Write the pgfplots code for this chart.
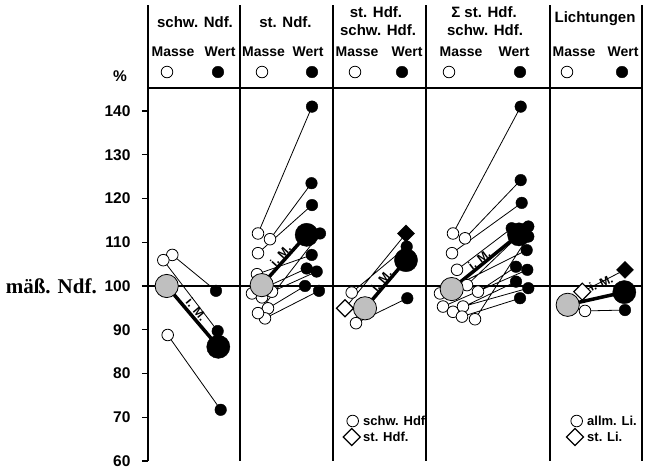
\documentclass[border=0pt]{standalone}
\usepackage{fontspec}
\setmainfont{Liberation Sans}
\newfontfamily\serifb{Liberation Serif}
\usepackage{pgfplots}
\pgfplotsset{compat=1.18}
\newcommand\hf{\fontsize{15}{17}\selectfont\bfseries}
\newcommand\mf{\fontsize{14}{15}\selectfont\bfseries}
\newcommand\tf{\fontsize{15.5}{16}\selectfont\bfseries}
\newcommand\lf{\fontsize{13}{14}\selectfont\bfseries}
\newcommand\imf{\fontsize{12}{12}\selectfont\bfseries}
\newcommand\bigserif{\serifb\bfseries\fontsize{21}{23}\selectfont}
\definecolor{midgray}{gray}{0.75}
\begin{document}
\begin{tikzpicture}
\begin{axis}[
 scale only axis, width=494pt, height=456pt,
 xmin=148, xmax=642, ymin=60, ymax=164.2286,
 clip=false,
 axis x line=none, axis y line=left,
 axis line style={-, line width=1.6pt},
 ytick={60,70,...,140},
 tick align=outside, major tick length=6pt,
 every tick/.style={line width=1.2pt, black},
 yticklabel style={font=\tf, xshift=-8pt, /pgf/number format/assume math mode=true},
 unbounded coords=jump,
]
% frame lines
\addplot[line width=1.6pt, black] coordinates {(240,60)(240,164.2286) (nan,nan) (333,60)(333,164.2286) (nan,nan) (426,60)(426,164.2286) (nan,nan) (550,60)(550,164.2286) (nan,nan) (642,60)(642,164.2286)};
\addplot[line width=1.6pt, black] coordinates {(148,100)(642,100) (nan,nan) (148,145.26)(642,145.26)};
% thin connecting lines
\addplot[line width=0.8pt, black] coordinates {
 (172.3,107.1)(216,98.9) (nan,nan) (163.3,105.9)(217.7,89.7) (nan,nan) (167.7,88.8)(220.7,71.7) (nan,nan)
 (258,112.0)(312,141.0) (nan,nan) (270,110.7)(311.5,123.5) (nan,nan) (258,107.5)(312,118.5) (nan,nan)
 (257,102.7)(311.7,107.1) (nan,nan) (252,98.3)(306.7,104.0) (nan,nan) (272,98.7)(316.7,103.3) (nan,nan)
 (268,94.9)(305,100.0) (nan,nan) (265,92.6)(319,98.9) (nan,nan) (258,93.8)(320,112.0) (nan,nan)
 (351.7,98.5)(406.7,109.0) (nan,nan) (345,94.9)(406,112.0) (nan,nan) (356,91.5)(407.3,97.2) (nan,nan)
 (453,112.0)(520.7,141.0) (nan,nan) (465,110.9)(520.7,124.2) (nan,nan) (452,107.5)(521.7,119.0) (nan,nan)
 (457,103.7)(511.7,113.2) (nan,nan) (467,100.2)(528.3,113.6) (nan,nan) (440,98.3)(526.7,108.2) (nan,nan)
 (478,98.7)(516,104.4) (nan,nan) (443,95.3)(527.3,103.7) (nan,nan) (453,94.1)(516,101.0) (nan,nan)
 (463,95.3)(528.3,99.5) (nan,nan) (462,93.0)(520,97.2) (nan,nan) (475,92.4)(528.3,111.3) (nan,nan)
 (585,94.3)(625,94.5) (nan,nan) (582.3,98.7)(625,103.7)};
% open circles
\addplot[only marks, mark=*, mark size=5.8pt, mark options={fill=white, draw=black, line width=0.8pt}] coordinates {
 (172.3,107.1)(163.3,105.9)(167.7,88.8)
 (258,112.0)(270,110.7)(258,107.5)(257,102.7)(252,98.3)(272,98.7)(262,97.4)(268,94.9)(265,92.6)(258,93.8)
 (351.7,98.5)(356,91.5)
 (453,112.0)(465,110.9)(452,107.5)(457,103.7)(467,100.2)(440,98.3)(478,98.7)(443,95.3)(453,94.1)(463,95.3)(462,93.0)(475,92.4)
 (585,94.3)
 (167,148.91)(262,148.91)(355,148.91)(449,148.91)(567,148.91)
 (352.7,69.14)(576.7,69.14)};
% filled circles
\addplot[only marks, mark=*, mark size=5.8pt, mark options={fill=black, draw=black}] coordinates {
 (216,98.9)(217.7,89.7)(220.7,71.7)
 (312,141.0)(311.5,123.5)(312,118.5)(311.7,107.1)(306.7,104.0)(316.7,103.3)(305,100.0)(319,98.9)(320,112.0)
 (406.7,109.0)(407.3,97.2)
 (520.7,141.0)(520.7,124.2)(521.7,119.0)(511.7,113.2)(528.3,113.6)(526.7,108.2)(516,104.4)(527.3,103.7)(516,101.0)(528.3,99.5)(520,97.2)(528.3,111.3)
 (625,94.5)
 (218,148.91)(312,148.91)(402,148.91)(520,148.91)(622,148.91)};
% mean lines
\addplot[line width=3.5pt, black] coordinates {
 (166.7,100)(218.3,86.1) (nan,nan) (261.7,100.2)(306.7,111.7) (nan,nan) (365,94.9)(406,105.9) (nan,nan)
 (451.7,99.3)(519,111.8) (nan,nan) (567.7,95.7)(624.3,98.6)};
\addplot[only marks, mark=*, mark size=11.6pt, mark options={fill=midgray, draw=black, line width=0.8pt}] coordinates {
 (166.7,100)(261.7,100.2)(365,94.9)(451.7,99.3)(567.7,95.7)};
\addplot[only marks, mark=*, mark size=11.6pt, mark options={fill=black, draw=black}] coordinates {
 (218.3,86.1)(306.7,111.7)(406,105.9)(519,111.8)(624.3,98.6)};
% diamonds
\addplot[only marks, mark=square*, mark size=6pt, mark options={rotate=45, fill=white, draw=black, line width=1.2pt}] coordinates {
 (345,94.9)(582.3,98.7)(351.7,65.49)(575,65.49)};
\addplot[only marks, mark=square*, mark size=6pt, mark options={rotate=45, fill=black, draw=black}] coordinates {
 (406,112.0)(625,103.7)};
% i. M. labels
\node[font=\imf, rotate=-50, anchor=south, inner sep=2.5pt] at (axis cs:191,93.6) {i. M.};
\node[font=\imf, rotate=48, anchor=south, inner sep=1.5pt] at (axis cs:285,106.06) {i. M.};
\node[font=\imf, rotate=50, anchor=south, inner sep=1.5pt] at (axis cs:386,100.3) {i. M.};
\node[font=\imf, rotate=38, anchor=south, inner sep=1.5pt] at (axis cs:483,104.9) {i. M.};
\node[font=\imf, rotate=24] at (axis cs:601,100.69) {i. M.};
% headers
\node[font=\hf] at (axis cs:195,160.34) {schw. Ndf.};
\node[font=\hf] at (axis cs:285.5,160.34) {st. Ndf.};
\node[font=\hf, inner sep=0pt] at (axis cs:376,162.63) {st. Hdf.};
\node[font=\hf, inner sep=0pt] at (axis cs:378,158.51) {schw. Hdf.};
\node[font=\hf, inner sep=0pt] at (axis cs:484,162.63) {Σ st. Hdf.};
\node[font=\hf, inner sep=0pt] at (axis cs:485,158.51) {schw. Hdf.};
\node[font=\hf] at (axis cs:595,161.03) {Lichtungen};
\node[font=\mf] at (axis cs:173,153.49) {Masse};
\node[font=\mf] at (axis cs:220,153.49) {Wert};
\node[font=\mf] at (axis cs:263.5,153.49) {Masse};
\node[font=\mf] at (axis cs:308,153.49) {Wert};
\node[font=\mf] at (axis cs:357,153.49) {Masse};
\node[font=\mf] at (axis cs:407,153.49) {Wert};
\node[font=\mf] at (axis cs:461,153.49) {Masse};
\node[font=\mf] at (axis cs:514,153.49) {Wert};
\node[font=\mf] at (axis cs:574,153.49) {Masse};
\node[font=\mf] at (axis cs:623,153.49) {Wert};
\node[font=\tf] at (axis cs:120,148.0) {\%};
\node[anchor=east, inner sep=0pt] at (axis cs:97,100) {\bigserif mäß. Ndf.};
% legends
\node[font=\lf, anchor=west, inner sep=0pt] at (axis cs:363,69.14) {schw. Hdf};
\node[font=\lf, anchor=west, inner sep=0pt] at (axis cs:363,65.49) {st. Hdf.};
\node[font=\lf, anchor=west, inner sep=0pt] at (axis cs:587,69.14) {allm. Li.};
\node[font=\lf, anchor=west, inner sep=0pt] at (axis cs:587,65.49) {st. Li.};
\coordinate (bl) at (axis cs:0,58.17);
\coordinate (tr) at (axis cs:645,165.37);
\end{axis}
\path (bl) rectangle (tr);
\end{tikzpicture}
\end{document}
